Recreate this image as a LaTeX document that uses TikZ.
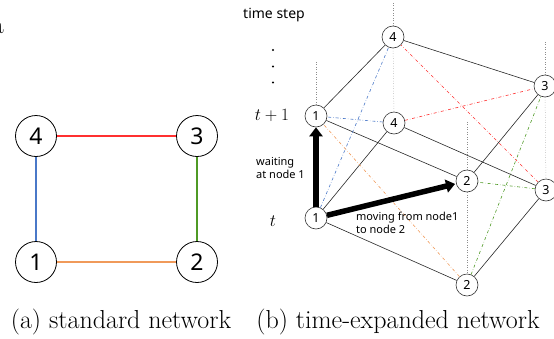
\documentclass[tikz,border=0pt]{standalone}
\usepackage{fontspec}
\newfontfamily\gothic{Noto Sans}
\usetikzlibrary{arrows.meta, positioning}

\definecolor{edgeblue}{HTML}{4A78C8}
\definecolor{edgered}{HTML}{FF3030}
\definecolor{edgegreen}{HTML}{4F9A25}
\definecolor{edgeorange}{HTML}{F09A5A}

\begin{document}
\begin{tikzpicture}[x=1pt,y=-1pt,
    bignode/.style={circle,draw,line width=0.8pt,minimum size=41pt,inner sep=0pt,
      font=\gothic\fontsize{23}{23}\selectfont},
    smallnode/.style={circle,draw=black!80,line width=0.6pt,minimum size=22pt,inner sep=0pt,
      fill=white,font=\gothic\fontsize{12.5}{12.5}\selectfont},
    link/.style={black!85,line width=0.6pt},
    dd/.style={dash dot,line width=0.6pt},
    vline/.style={dotted,black!45,line width=0.5pt},
    fatarrow/.style={line width=5.5pt,-{Triangle[width=13pt,length=9pt]}},
    note/.style={font=\gothic\fontsize{11}{13}\selectfont,align=left,inner sep=0pt},
    caption/.style={font=\fontsize{26}{30}\selectfont}]

  \useasboundingbox (0,0) rectangle (554,338);

  % (a) standard network
  \node[caption,anchor=base east,inner sep=0pt] (cut) at (4,33) {a};
  \node[bignode] (a1) at (36,262)  {1};
  \node[bignode] (a2) at (197,262) {2};
  \node[bignode] (a3) at (197,136) {3};
  \node[bignode] (a4) at (36,136)  {4};
  \draw[edgeorange,line width=1.1pt] (a1) -- (a2);
  \draw[edgegreen,line width=1.1pt]  (a2) -- (a3);
  \draw[edgered,line width=1.1pt]    (a3) -- (a4);
  \draw[edgeblue,line width=1.1pt]   (a4) -- (a1);
  \node[caption] (capa) at (121,322) {(a) standard network};

  % (b) time-expanded network
  \node[smallnode] (u1) at (316,116) {1};
  \node[smallnode] (u2) at (467,181) {2};
  \node[smallnode] (u3) at (545,86)  {3};
  \node[smallnode] (u4) at (393,37)  {4};
  \node[smallnode] (l1) at (316,218) {1};
  \node[smallnode] (l2) at (467,285) {2};
  \node[smallnode] (l3) at (546,190) {3};
  \node[smallnode] (l4) at (394,123) {4};

  \coordinate (top1) at (316,62);
  \coordinate (top2) at (467,122);
  \coordinate (top3) at (545,41);
  \coordinate (top4) at (393,3);
  \foreach \n in {1,2,3,4}
    \draw[vline] (u\n) -- (top\n);
  \foreach \n in {2,3,4}
    \draw[vline] (u\n) -- (l\n);

  % edges inside a time step
  \draw[link] (u1) -- (u4) -- (u3) -- (u2) -- (u1);
  \draw[link] (l1) -- (l4) -- (l3) -- (l2) -- (l1);

  % moves between time steps
  \draw[dd,edgeblue]   (l1) -- (u4);
  \draw[dd,edgeblue]   (l4) -- (u1);
  \draw[dd,edgered]    (l4) -- (u3);
  \draw[dd,edgered]    (l3) -- (u4);
  \draw[dd,edgegreen]  (l2) -- (u3);
  \draw[dd,edgegreen]  (l3) -- (u2);
  \draw[dd,edgeorange] (l2) -- (u1);

  \draw[fatarrow] (l1) -- (u1);
  \draw[fatarrow,shorten >=1pt] (l1) -- (u2);

  % time axis
  \node[font=\gothic\fontsize{14}{14}\selectfont] (ts) at (274,15) {time step};
  \foreach \y [count=\i] in {50,66.5,82.5}
    \fill (273,\y) circle (1.2pt) coordinate (dot\i);
  \node[font=\fontsize{17}{17}\selectfont] (tnext) at (272,115) {$t+1$};
  \node[font=\fontsize{17}{17}\selectfont] (tnow) at (273,221) {$t$};

  \node[note,anchor=west] (wait) at (256,168) {waiting\\at node 1};
  \node[note,anchor=west] (move) at (356,223) {moving from node1\\to node 2};
  \node[caption] (capb) at (398,322) {(b) time-expanded network};
\end{tikzpicture}
\end{document}
